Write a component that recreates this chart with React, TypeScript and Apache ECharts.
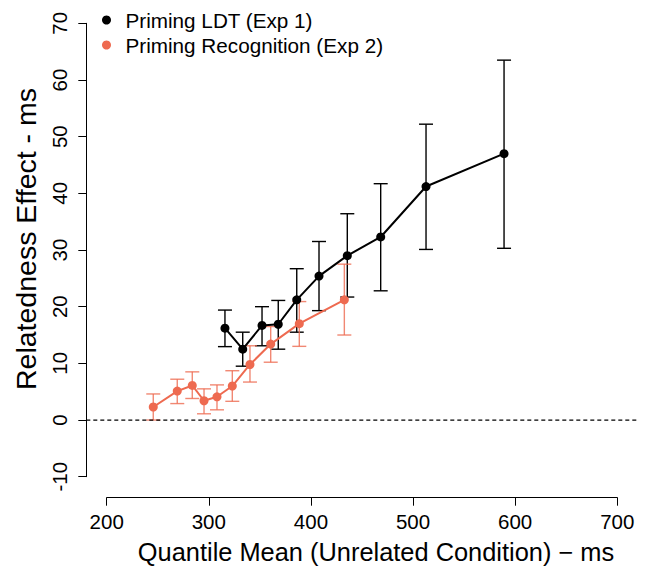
import React, { useEffect, useRef } from "react";
import * as echarts from "echarts";

// Priming LDT (Exp 1)
const ldtX = [315.8, 333.2, 352.1, 368.0, 386.1, 407.9, 435.6, 468.3, 512.7, 589.1];
const ldtY = [16.2, 12.5, 16.7, 16.9, 21.2, 25.4, 29.0, 32.3, 41.2, 47.0];
const ldtLow = [12.95, 9.5, 13.1, 12.5, 15.5, 19.3, 21.7, 22.8, 30.1, 30.3];
const ldtHigh = [19.4, 15.5, 20.0, 21.1, 26.7, 31.5, 36.4, 41.7, 52.2, 63.5];

// Priming Recognition (Exp 2)
const recX = [245.6, 269.1, 283.8, 295.3, 308.0, 323.0, 340.3, 360.6, 388.6, 432.7];
const recY = [2.3, 5.1, 6.1, 3.4, 4.1, 6.0, 9.8, 13.4, 17.0, 21.2];
const recLow = [0.0, 2.9, 3.8, 1.1, 1.8, 3.3, 6.7, 10.2, 13.0, 15.0];
const recHigh = [4.6, 7.2, 8.5, 5.5, 6.2, 8.7, 13.1, 16.5, 20.9, 27.5];

// reference line at 0 across the full plot region (x from 180 to 720)
const refLineX = [180, 720];
const refLineY = 0;

const seriesNames = ["Priming LDT (Exp 1)", "Priming Recognition (Exp 2)"];
const xTitle = "Quantile Mean (Unrelated Condition) \u2212 ms";
const yTitle = "Relatedness Effect - ms";

const BLACK = "#000000";
const ORANGE = "#EE6A50";
const FONT = "'Liberation Sans', Arial, Helvetica, sans-serif";

function errorBarSeries(xs: number[], lo: number[], hi: number[], color: string, opacity: number) {
  const data = xs.map((x, i) => [x, lo[i], hi[i]]);
  return {
    type: "custom",
    data,
    xAxisIndex: 0,
    yAxisIndex: 0,
    encode: { x: 0, y: [1, 2] },
    silent: true,
    renderItem: (params: any, api: any) => {
      const x = api.value(0);
      const pLo = api.coord([x, api.value(1)]);
      const pHi = api.coord([x, api.value(2)]);
      const hw = 7;
      const style = { stroke: color, lineWidth: 1.4, opacity };
      return {
        type: "group",
        children: [
          { type: "line", shape: { x1: pLo[0], y1: pLo[1], x2: pHi[0], y2: pHi[1] }, style },
          { type: "line", shape: { x1: pLo[0] - hw, y1: pLo[1], x2: pLo[0] + hw, y2: pLo[1] }, style },
          { type: "line", shape: { x1: pHi[0] - hw, y1: pHi[1], x2: pHi[0] + hw, y2: pHi[1] }, style },
        ],
      };
    },
  };
}

export default function App() {
  const ref = useRef<HTMLDivElement>(null);
  useEffect(() => {
    if (!ref.current) return;
    const chart = echarts.init(ref.current, undefined, { renderer: "svg" });
    const option: any = {
      animation: false,
      backgroundColor: "#ffffff",
      textStyle: { fontFamily: FONT, color: "#000" },
      grid: [
        { left: 106.7, right: 29.7, top: 23.3, bottom: 89.3, containLabel: false, outerBoundsMode: "none" },
        { left: 86.3, right: 9.3, top: 23.3, bottom: 89.3, containLabel: false, outerBoundsMode: "none" },
      ],
      legend: {
        data: seriesNames,
        orient: "vertical",
        left: 102,
        top: 9.5,
        padding: 0,
        icon: "circle",
        itemWidth: 28,
        itemHeight: 9,
        itemGap: 4,
        textStyle: { fontFamily: FONT, fontSize: 20.7, lineHeight: 21, color: "#000" },
        selectedMode: false,
      },
      xAxis: [
        {
          type: "value",
          gridIndex: 0,
          min: 200,
          max: 700,
          interval: 100,
          offset: 21,
          axisLine: { show: true, onZero: false, lineStyle: { color: "#000", width: 1 } },
          axisTick: { show: true, length: 8, lineStyle: { color: "#000", width: 1 } },
          axisLabel: { fontFamily: FONT, fontSize: 20.5, color: "#000", margin: 13 },
          splitLine: { show: false },
          name: xTitle,
          nameLocation: "middle",
          nameGap: 42,
          nameTextStyle: { fontFamily: FONT, fontSize: 25.4, color: "#000", padding: [0, 0, 0, 28] },
        },
        {
          type: "value",
          gridIndex: 1,
          min: 180,
          max: 720,
          show: false,
        },
      ],
      yAxis: [
        {
          type: "value",
          gridIndex: 0,
          min: -10,
          max: 70,
          interval: 10,
          offset: 20.4,
          axisLine: { show: true, onZero: false, lineStyle: { color: "#000", width: 1 } },
          axisTick: { show: true, length: 8, lineStyle: { color: "#000", width: 1 } },
          axisLabel: { fontFamily: FONT, fontSize: 20.5, color: "#000", margin: 16.5, rotate: 90 },
          splitLine: { show: false },
          name: yTitle,
          nameLocation: "middle",
          nameRotate: 90,
          nameGap: 43.7,
          nameTextStyle: { fontFamily: FONT, fontSize: 28.5, color: "#000", padding: [0, 0, 0, 22] },
        },
        {
          type: "value",
          gridIndex: 1,
          min: -10,
          max: 70,
          show: false,
        },
      ],
      series: [
        {
          type: "line",
          xAxisIndex: 1,
          yAxisIndex: 1,
          data: refLineX.map((x) => [x, refLineY]),
          symbol: "none",
          silent: true,
          lineStyle: { color: "#000", width: 1.3, type: [4, 3] },
        },
        errorBarSeries(ldtX, ldtLow, ldtHigh, BLACK, 1),
        {
          name: seriesNames[0],
          type: "line",
          xAxisIndex: 0,
          yAxisIndex: 0,
          data: ldtX.map((x, i) => [x, ldtY[i]]),
          symbol: "circle",
          symbolSize: 9,
          itemStyle: { color: BLACK },
          lineStyle: { color: BLACK, width: 2 },
        },
        errorBarSeries(recX, recLow, recHigh, ORANGE, 0.8),
        {
          name: seriesNames[1],
          type: "line",
          xAxisIndex: 0,
          yAxisIndex: 0,
          data: recX.map((x, i) => [x, recY[i]]),
          symbol: "circle",
          symbolSize: 9,
          itemStyle: { color: ORANGE },
          lineStyle: { color: ORANGE, width: 2 },
        },
      ],
    };
    chart.setOption(option);
    return () => chart.dispose();
  }, []);
  return (
    <div
      ref={ref}
      style={{ position: "fixed", left: 0, top: 0, width: 647, height: 566 }}
    />
  );
}
